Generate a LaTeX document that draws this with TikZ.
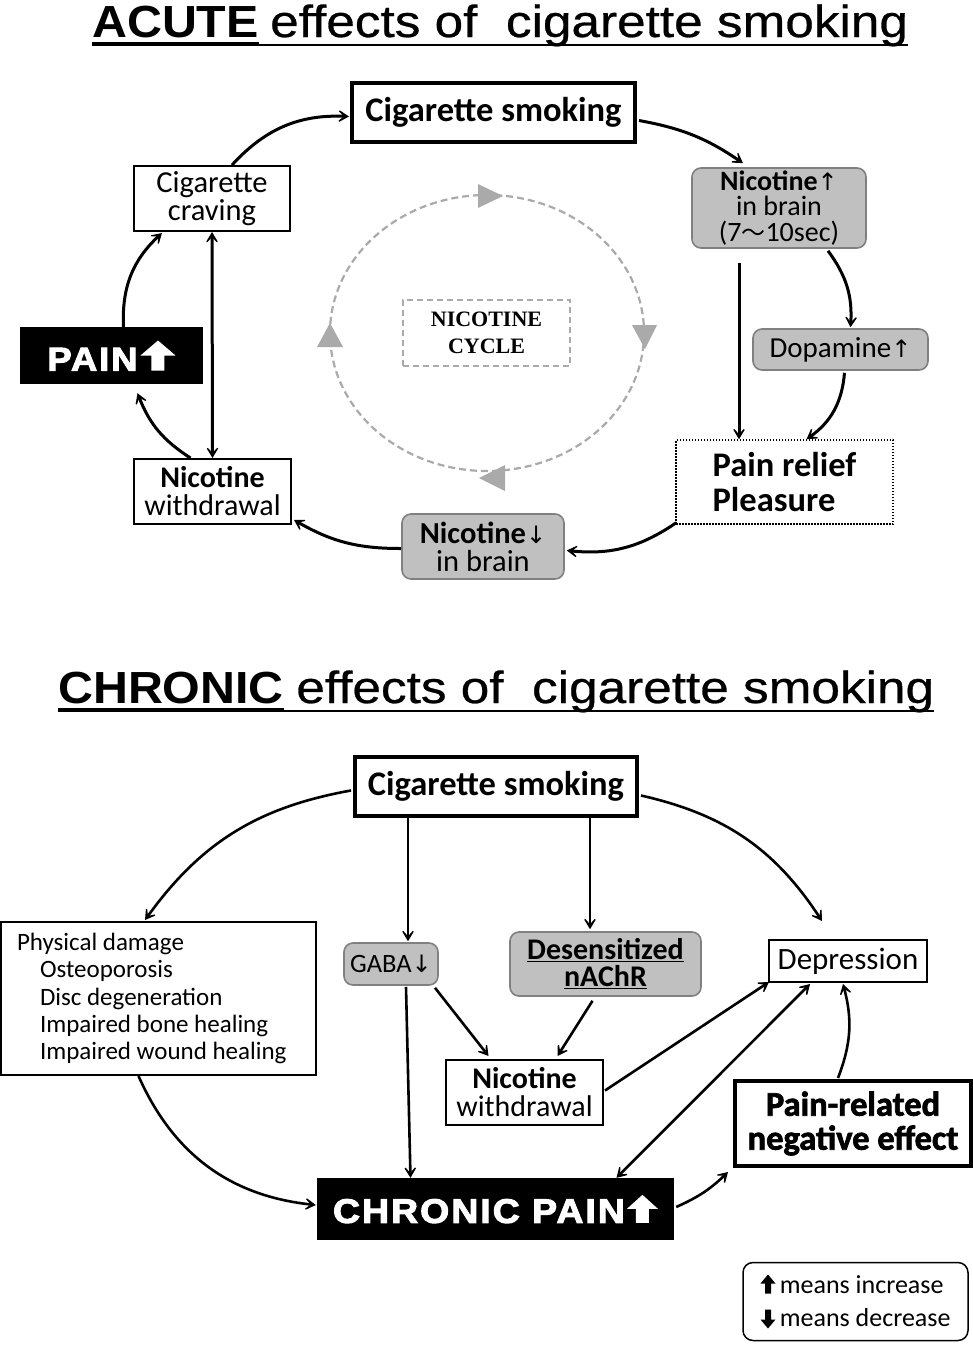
\documentclass[tikz,border=0pt]{standalone}
\usepackage{fontspec}
\setmainfont{Carlito}
\newfontfamily\ttlbf[FakeStretch=1.075]{Liberation Sans}
\newfontfamily\ttlrm[FakeStretch=1.14,FakeBold=0.6]{Liberation Sans}
\newfontfamily\heavyf[FakeBold=3,FakeStretch=1.1,LetterSpace=6]{Liberation Sans}
\newfontfamily\calheavy[FakeBold=2]{Carlito}
\newfontfamily\timesf{Liberation Serif}
\newfontfamily\symf{DejaVu Sans}
\newfontfamily\cjkf{Noto Sans CJK JP}
\usetikzlibrary{arrows.meta,calc}
\definecolor{fgray}{RGB}{192,192,192}
\definecolor{bgray}{RGB}{128,128,128}
\definecolor{cgray}{RGB}{170,170,170}
\newcommand\blkup[5]{\tikz[x=1pt,y=1pt,baseline=0pt,sharp corners]\fill[#1] ({(#2-#5)/2},0)--({(#2-#5)/2},{#3-#4})--(0,{#3-#4})--({#2/2},#3)--(#2,{#3-#4})--({(#2+#5)/2},{#3-#4})--({(#2+#5)/2},0)--cycle;}
\newcommand\blkdn[5]{\tikz[x=1pt,y=1pt,baseline=2pt,sharp corners]\fill[#1] ({(#2-#5)/2},#3)--({(#2-#5)/2},#4)--(0,#4)--({#2/2},0)--(#2,#4)--({(#2+#5)/2},#4)--({(#2+#5)/2},#3)--cycle;}
\newcommand\uar{{\symf\mdseries\fontsize{24}{24}\selectfont ↑}}
\newcommand\dar{{\symf\mdseries\fontsize{24}{24}\selectfont ↓}}
\newcommand\fz[2]{\fontsize{#1}{#2}\selectfont}
\tikzset{
  wbox/.style={draw, line width=2pt, fill=white, align=center, inner sep=0pt},
  tbox/.style={draw, line width=4pt, fill=white, align=center, inner sep=0pt},
  gbox/.style={draw=bgray, fill=fgray, line width=1.6pt, rounded corners=9pt, align=center, inner sep=0pt},
  bbox/.style={fill=black, text=white, align=center, inner sep=0pt},
  conn/.style={line width=3pt},
  conn2/.style={line width=2.6pt},
  ttl/.style={anchor=base west, inner sep=0pt},
}
\begin{document}
\begin{tikzpicture}[x=1pt,y=-1pt,>={Stealth[length=15pt,width=18pt,inset=10pt]}]
\useasboundingbox (0,0) rectangle (973,1349);
\fill[white] (0,0) rectangle (973,1349);

% ---------------- ACUTE -----------------
\node[ttl, font=\ttlbf\bfseries\fz{45}{48}] (t1a) at (92,37) {ACUTE};
\node[ttl, font=\ttlrm\fz{45}{48}] (t1b) at ($(t1a.base east)+(11,0)$) {effects of\ \ cigarette smoking};
\draw[line width=4.5pt] ($(t1a.base west)+(0,7)$) -- ($(t1a.base east)+(0,7)$);
\draw[line width=2pt] ($(t1a.base east)+(0,8)$) -- ($(t1b.base east)+(0,8)$);

\node[tbox, minimum width=283, minimum height=59, font=\bfseries\fz{34.5}{36}] (cs1) at (493.5,112.5) {Cigarette smoking};
\node[wbox, minimum width=156, minimum height=65, font=\fz{30.5}{28}] (crave) at (212,198.5) {Cigarette\\craving};
\node[bbox, minimum width=183, minimum height=57, font=\heavyf\bfseries\fz{33}{34}] (pain) at (111.5,355.5) {PAIN\hspace{3pt}\blkup{white}{35}{30}{15}{13}};
\node[wbox, minimum width=157, minimum height=65, font=\fz{30}{28}] (nwd1) at (212.5,491.5) {\textbf{Nicotine}\\withdrawal};
\node[gbox, minimum width=162, minimum height=65, font=\fz{30.5}{28}] (ndn) at (483,546.5) {\textbf{Nicotine}\dar\\in brain};
\node[draw, dash pattern=on 1.5pt off 1.5pt, line width=1.5pt, minimum width=217, minimum height=84, inner sep=0pt, align=left, font=\bfseries\fz{34.5}{35}] (relief) at (784.5,482) {Pain relief\\Pleasure};
\node[gbox, minimum width=175, minimum height=41, font=\fz{29}{27}] (dopa) at (840.5,349.5) {Dopamine\uar};
\node[gbox, minimum width=174, minimum height=80, font=\fz{28}{25.5}] (nup) at (779,208) {\textbf{Nicotine}\uar\\in brain\\(7{\cjkf\fz{24}{25}〜}10sec)};
\node[draw=cgray, dash pattern=on 6pt off 4pt, line width=2pt, minimum width=167, minimum height=66, inner sep=0pt, align=center, font=\timesf\bfseries\fz{22}{27}] (cyc) at (486.5,333) {NICOTINE\\CYCLE};

% nicotine cycle ellipse
\draw[cgray, line width=2.2pt, dash pattern=on 7pt off 4pt] (487,333) ellipse [x radius=157, y radius=138];
\fill[cgray] (478,184) -- (503,196) -- (478,208) -- cycle;
\fill[cgray] (632,325) -- (645,349) -- (657,325) -- cycle;
\fill[cgray] (505,465) -- (479,478) -- (505,491) -- cycle;
\fill[cgray] (317,347) -- (330,323) -- (343,347) -- cycle;

% acute connectors
\draw[conn,->] ($(crave.north)+(20,0)$) to[bend left=25] ($(cs1.west)+(-1,4)$);
\draw[conn,->] ($(cs1.east)+(2,8)$) to[bend left=12] ($(nup.north)+(-36,-4)$);
\draw[conn,->] ($(nup.south)+(49,2)$) to[bend left=20] ($(dopa.north)+(10,-1)$);
\draw[conn,->] ($(dopa.south)+(4,2)$) to[bend left=25] ($(relief.north)+(22,0)$);
\draw[conn,->] ($(nup.south)+(-40,14)$) -- ($(relief.north)+(-45.5,0)$);
\draw[conn,->] ($(relief.south west)+(1,-2)$) to[bend left=20] ($(ndn.east)+(2,4)$);
\draw[conn,->] ($(ndn.west)+(0,2)$) to[bend left=15] ($(nwd1.south east)+(2,-5)$);
\draw[conn,->] ($(nwd1.north)+(-22,0)$) to[bend left=18] ($(pain.south)+(26,9)$);
\draw[conn,->] ($(pain.north)+(12,0)$) to[bend left=25] ($(crave.south)+(-50,1)$);
\draw[conn,<->] (crave.south) -- (nwd1.north);

% ---------------- CHRONIC -----------------
\node[ttl, font=\ttlbf\bfseries\fz{45}{48}] (t2a) at (58,703) {CHRONIC};
\node[ttl, font=\ttlrm\fz{45}{48}] (t2b) at ($(t2a.base east)+(12,0)$) {effects of\ \ cigarette smoking};
\draw[line width=4.5pt] ($(t2a.base west)+(0,7)$) -- ($(t2a.base east)+(0,7)$);
\draw[line width=2pt] ($(t2a.base east)+(0,8)$) -- ($(t2b.base east)+(0,8)$);

\node[tbox, minimum width=282, minimum height=59, font=\bfseries\fz{34.5}{36}] (cs2) at (496,786.5) {Cigarette smoking};
\node[wbox, minimum width=315, minimum height=153, align=left, font=\fz{25}{27.3}] (phys) at (158.5,998.5) {\makebox[283pt][l]{Physical damage}\\\hspace*{23pt}Osteoporosis\\\hspace*{23pt}Disc degeneration\\\hspace*{23pt}Impaired bone healing\\\hspace*{23pt}Impaired wound healing};
\node[gbox, minimum width=94, minimum height=42, font=\fz{26.5}{28}] (gaba) at (391,964) {GABA\dar};
\node[gbox, minimum width=191, minimum height=64, font=\bfseries\fz{30}{27}] (desens) at (605.5,964) {\underline{Desensitized}\\\underline{nAChR}};
\node[wbox, minimum width=158, minimum height=42, font=\fz{31}{29}] (depr) at (848,961) {Depression};
\node[wbox, minimum width=157, minimum height=65, font=\fz{30}{28}] (nwd2) at (524.5,1092.5) {\textbf{Nicotine}\\withdrawal};
\node[tbox, minimum width=236, minimum height=85, font=\calheavy\bfseries\fz{34.5}{34}] (prne) at (853,1123.5) {Pain-related\\negative effect};
\node[bbox, minimum width=357, minimum height=62, font=\heavyf\bfseries\fz{34}{35}] (cpain) at (495.5,1209) {CHRONIC PAIN\hspace{2pt}\blkup{white}{31}{28}{14}{13}};
\node[draw, line width=1.5pt, rounded corners=10pt, minimum width=225, minimum height=78, inner sep=0pt, align=left, font=\fz{26}{33}] (leg) at (855.5,1301.5) {\blkup{black}{15}{19}{9}{6}\,means increase\\\blkdn{black}{15}{19}{9}{6}\,means decrease};

% chronic connectors
\draw[conn2,->] ($(cs2.west)+(-2,4)$) to[bend right=22] ($(phys.north)+(-13.5,-1)$);
\draw[conn2,->] ($(cs2.south)+(-88,0)$) -- ($(gaba.north)+(17,-1)$);
\draw[conn2,->] ($(cs2.south)+(94,0)$) -- ($(desens.north)+(-15.5,-2)$);
\draw[conn2,->] ($(cs2.east)+(2,9)$) to[bend left=22] ($(depr.north)+(-26,-18)$);
\draw[conn2,->] ($(gaba.south)+(15,1)$) -- ($(cpain.north)+(-85,0)$);
\draw[conn2,->] ($(gaba.south)+(44,2)$) -- ($(nwd2.north)+(-36,-3)$);
\draw[conn2,->] ($(desens.south)+(-13,4)$) -- ($(nwd2.north)+(33,-3)$);
\draw[conn2,->] ($(nwd2.east)+(1,-2)$) -- ($(depr.south west)+(1,-1)$);
\draw[conn2,<->] ($(cpain.north)+(121,0)$) -- ($(depr.south)+(-38,1)$);
\draw[conn2,->] ($(prne.north)+(-15,-1)$) to[bend right=18] ($(depr.south)+(-5,1)$);
\draw[conn2,->] ($(phys.south)+(-20,0)$) to[bend right=30] ($(cpain.west)+(-1,-4)$);
\draw[conn2,->] ($(cpain.east)+(2,-2)$) to[bend right=10] ($(prne.south west)+(-5,4)$);
\end{tikzpicture}
\end{document}
